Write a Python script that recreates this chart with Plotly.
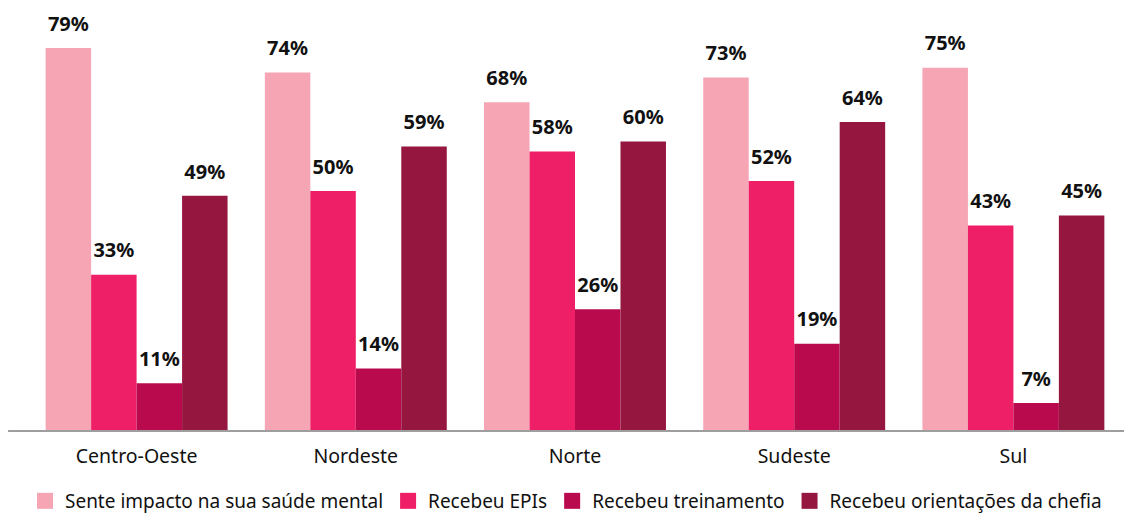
import plotly.graph_objects as go

regions = ["Centro-Oeste", "Nordeste", "Norte", "Sudeste", "Sul"]
series_names = [
    "Sente impacto na sua saúde mental",
    "Recebeu EPIs",
    "Recebeu treinamento",
    "Recebeu orientações da chefia",
]
saude_mental = [79, 74, 68, 73, 75]
epis = [33, 50, 58, 52, 43]
treinamento = [11, 14, 26, 19, 7]
orientacoes = [49, 59, 60, 64, 45]
colors = ["#F5A5B4", "#EE1F66", "#BA0A4E", "#95173F"]

series_values = [saude_mental, epis, treinamento, orientacoes]
FONT = "Noto Sans"

fig = go.Figure()
for i, (name, vals, col) in enumerate(zip(series_names, series_values, colors)):
    g = f"g{i}"
    fig.add_trace(go.Bar(
        x=regions, y=vals, name=name, marker=dict(color=col, line=dict(width=0)),
        offsetgroup=g, alignmentgroup="a", showlegend=False, hoverinfo="skip",
    ))
    fig.add_trace(go.Scatter(
        x=regions, y=vals, mode="markers+text",
        text=[f"{v}%" for v in vals], textposition="top center",
        textfont=dict(family=FONT, size=20, color="#111111", weight="bold"),
        marker=dict(size=18, color="rgba(0,0,0,0)"),
        offsetgroup=g, alignmentgroup="a", showlegend=False, hoverinfo="skip",
        cliponaxis=False,
    ))
    fig.add_trace(go.Scatter(
        x=[None], y=[None], mode="markers", name=name,
        marker=dict(symbol="square", size=20, color=col),
        offsetgroup=g, alignmentgroup="a", showlegend=True,
    ))

fig.update_layout(
    width=1132, height=513,
    barmode="group", bargap=0.17, bargroupgap=0,
    scattermode="group", scattergap=0.17,
    plot_bgcolor="white", paper_bgcolor="white",
    margin=dict(l=19, r=17, t=2, b=90, autoexpand=False),
    font=dict(family=FONT, size=19, color="#111111"),
    xaxis=dict(showline=False, showgrid=False, ticks="outside", ticklen=8,
               tickcolor="rgba(0,0,0,0)", tickfont=dict(size=19.5, color="#111111"),
               automargin=False),
    yaxis=dict(visible=False, range=[1.3, 86.7]),
    legend=dict(orientation="h", xref="container", x=0.015, xanchor="left",
                yref="container", y=0.039, yanchor="middle",
                font=dict(size=19, color="#111111"), itemwidth=30, tracegroupgap=0),
    showlegend=True,
)
fig.add_shape(type="line", xref="paper", yref="paper", x0=-0.0173, x1=1.016, y0=0, y1=0,
              line=dict(color="#9E9E9E", width=2))

fig.write_html("out.html")
